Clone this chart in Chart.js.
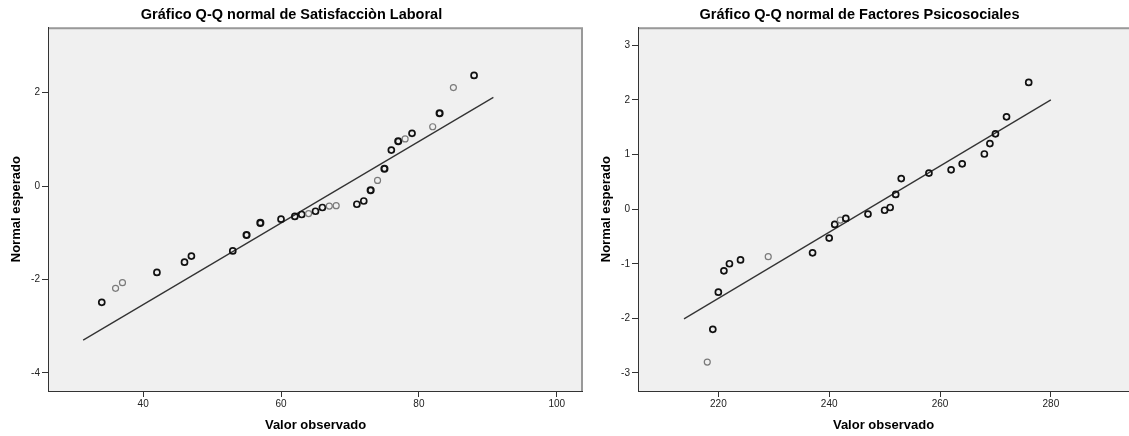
<!DOCTYPE html>
<html>
<head>
<meta charset="utf-8">
<script src="https://cdn.jsdelivr.net/npm/chart.js@4.4.1/dist/chart.umd.min.js"></script>
<style>
html, body { margin: 0; padding: 0; background: #fff; }
#wrap { position: relative; width: 1129px; height: 436px; overflow: hidden; }
.box { position: absolute; top: 0; height: 436px; }
#boxA { left: 0; width: 583px; }
#boxB { left: 590px; width: 539px; }
</style>
</head>
<body>
<div id="wrap">
  <div class="box" id="boxA"><canvas id="qqSat"></canvas></div>
  <div class="box" id="boxB"><canvas id="qqPsi"></canvas></div>
</div>
<script>
// Satisfacción Laboral: observed value, expected normal value, cases at that value
var satObs   = [34, 36, 37, 42, 46, 47, 53, 55, 57, 60, 62, 63, 64, 65, 66, 67, 68, 71, 72, 73, 74, 75, 76, 77, 78, 79, 82, 83, 85, 88];
var satExp   = [-2.49, -2.19, -2.07, -1.85, -1.63, -1.50, -1.39, -1.05, -0.79, -0.71, -0.65, -0.61, -0.59, -0.54, -0.46, -0.43, -0.42, -0.39, -0.32, -0.09, 0.12, 0.37, 0.77, 0.96, 1.01, 1.13, 1.27, 1.56, 2.11, 2.37];
var satCases = [2, 1, 1, 2, 2, 2, 2, 3, 3, 2, 2, 2, 1, 2, 2, 1, 1, 2, 2, 3, 1, 3, 2, 3, 1, 2, 1, 3, 1, 2];
var satLineX = [31.3, 90.8];
var satLineY = [-3.30, 1.90];
var satTicksX = [40, 60, 80, 100];
var satTicksY = [-4, -2, 0, 2];
var satRangeX = [26.2, 103.8];
var satRangeY = [-4.39, 3.40];

// Factores Psicosociales
var psiObs   = [218, 219, 220, 221, 222, 224, 229, 237, 240, 241, 242, 243, 247, 250, 251, 252, 253, 258, 262, 264, 268, 269, 270, 272, 276];
var psiExp   = [-2.80, -2.20, -1.52, -1.13, -1.00, -0.93, -0.87, -0.80, -0.53, -0.28, -0.20, -0.17, -0.09, -0.02, 0.03, 0.27, 0.56, 0.66, 0.72, 0.83, 1.01, 1.20, 1.38, 1.69, 2.32];
var psiCases = [1, 2, 2, 2, 2, 2, 1, 2, 2, 2, 1, 2, 2, 2, 2, 2, 2, 2, 2, 2, 2, 2, 2, 2, 2];
var psiLineX = [213.8, 280.0];
var psiLineY = [-2.01, 2.00];
var psiTicksX = [220, 240, 260, 280];
var psiTicksY = [-3, -2, -1, 0, 1, 2, 3];
var psiRangeX = [205.5, 294.1];
var psiRangeY = [-3.33, 3.33];

var FONT = "'Liberation Sans', Arial, sans-serif";

// grey plot background plus the light top / right frame lines
var framePlugin = {
  id: 'frame',
  beforeDraw: function(chart) {
    var a = chart.chartArea, c = chart.ctx;
    c.save();
    c.fillStyle = '#f0f0f0';
    c.fillRect(a.left, a.top, a.right - a.left, a.bottom - a.top);
    c.restore();
  },
  afterDraw: function(chart, args, opts) {
    var a = chart.chartArea, c = chart.ctx;
    c.save();
    c.strokeStyle = '#999';
    c.lineWidth = 2;
    c.beginPath();
    c.moveTo(a.left + 1, a.top + 1);
    c.lineTo(opts.right ? a.right - 1 : a.right, a.top + 1);
    if (opts.right) c.lineTo(a.right - 1, a.bottom);
    c.stroke();
    c.restore();
  }
};

function axis(ticks, range, label, fit) {
  return {
    type: 'linear',
    min: range[0],
    max: range[1],
    afterBuildTicks: function(s) { s.ticks = ticks.map(function(v) { return {value: v}; }); },
    afterFit: fit,
    grid: { display: true, drawOnChartArea: false, drawTicks: true, tickLength: 6, color: '#333' },
    border: { display: true, color: '#333', width: 1 },
    ticks: { color: '#222', padding: 1, autoSkip: false, maxRotation: 0, font: { family: FONT, size: 10 } },
    title: { display: true, text: label, color: '#000', font: { family: FONT, size: 13, weight: 'bold' } }
  };
}

function qqChart(id, title, obs, exp, cases, lineX, lineY, ticksX, ticksY, rangeX, rangeY, rightFrame) {
  var pts = obs.map(function(x, i) { return {x: x, y: exp[i]}; });
  var line = lineX.map(function(x, i) { return {x: x, y: lineY[i]}; });
  var xs = axis(ticksX, rangeX, 'Valor observado', function(s) { s.height = 45; });
  xs.title.padding = { top: 4, bottom: 3 };
  var ys = axis(ticksY, rangeY, 'Normal esperado', function(s) { s.width = 48; });
  ys.ticks.padding = 2;
  ys.title.padding = { top: 9, bottom: 4 };

  return new Chart(document.getElementById(id), {
    type: 'scatter',
    data: {
      datasets: [{
        data: pts,
        showLine: false,
        pointRadius: 3,
        pointHoverRadius: 3,
        pointBackgroundColor: 'rgba(0,0,0,0)',
        pointBorderColor: function(ctx) { return cases[ctx.dataIndex] > 1 ? '#111' : '#7a7a7a'; },
        pointBorderWidth: function(ctx) {
          var n = cases[ctx.dataIndex];
          return n > 2 ? 2.1 : (n > 1 ? 1.7 : 1.2);
        }
      }, {
        type: 'line',
        data: line,
        borderColor: '#333',
        borderWidth: 1.3,
        pointRadius: 0,
        fill: false
      }]
    },
    options: {
      responsive: true,
      maintainAspectRatio: false,
      animation: false,
      layout: { padding: 0, autoPadding: false },
      scales: { x: xs, y: ys },
      plugins: {
        legend: { display: false },
        tooltip: { enabled: false },
        title: {
          display: true,
          text: title,
          color: '#000',
          font: { family: FONT, size: 14.5, weight: 'bold' },
          padding: { top: 6.5, bottom: 3.4 }
        },
        frame: { right: rightFrame }
      }
    },
    plugins: [framePlugin]
  });
}

qqChart('qqSat', 'Gráfico Q-Q normal de Satisfacciòn Laboral', satObs, satExp, satCases,
  satLineX, satLineY, satTicksX, satTicksY, satRangeX, satRangeY, true);
qqChart('qqPsi', 'Gráfico Q-Q normal de Factores Psicosociales', psiObs, psiExp, psiCases,
  psiLineX, psiLineY, psiTicksX, psiTicksY, psiRangeX, psiRangeY, false);
</script>
</body>
</html>
